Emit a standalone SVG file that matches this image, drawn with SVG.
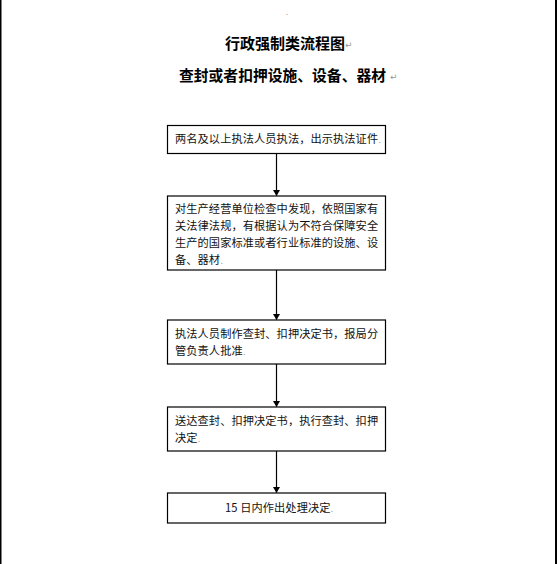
<svg xmlns="http://www.w3.org/2000/svg" width="557" height="564" viewBox="0 0 557 564">
<style>
.box{fill:#fff;stroke:#000;stroke-width:1.2}
.t{font-family:"Noto Sans CJK SC","Microsoft YaHei",sans-serif;font-size:11.2px;fill:#111;letter-spacing:0.1px}
.h{font-family:"Noto Sans CJK SC",sans-serif;font-size:15px;font-weight:bold;fill:#000}
.m{font-family:"DejaVu Sans",sans-serif;font-size:9px;fill:#999}
.c{stroke:#000;stroke-width:1.2;fill:none}
</style>
<defs>
<marker id="ah" markerWidth="6" markerHeight="7" refX="5.5" refY="3.5" orient="auto" markerUnits="userSpaceOnUse">
<path d="M0,0 L6,3.5 L0,7 Z" fill="#000"/>
</marker>
</defs>
<rect x="0" y="0" width="557" height="564" fill="#fff"/>
<rect x="0" y="0" width="1.5" height="564" fill="#000"/>
<rect x="555" y="0" width="2" height="564" fill="#000"/>
<g id="title">
<text x="287" y="15" class="m" text-anchor="middle">.</text>
<text x="225" y="49" class="h">行政强制类流程图</text>
<text x="345" y="48" class="m">↵</text>
<text x="179" y="81" class="h" textLength="207" lengthAdjust="spacingAndGlyphs">查封或者扣押设施、设备、器材</text>
<text x="390" y="80" class="m">↵</text>
</g>
<g id="connectors">
<line class="c" x1="276.5" y1="153" x2="276.5" y2="195.5" marker-end="url(#ah)"/>
<line class="c" x1="276.5" y1="270" x2="276.5" y2="319.5" marker-end="url(#ah)"/>
<line class="c" x1="276.5" y1="364" x2="276.5" y2="406.5" marker-end="url(#ah)"/>
<line class="c" x1="276.5" y1="451" x2="276.5" y2="492.5" marker-end="url(#ah)"/>
</g>
<g id="n1">
<rect class="box" x="167.5" y="125.5" width="218" height="28"/>
<text class="t" x="175" y="143">两名及以上执法人员执法，出示执法证件<tspan class="m">.</tspan></text>
</g>
<g id="n2">
<rect class="box" x="167.5" y="196" width="218" height="74"/>
<text class="t" x="175" y="213">对生产经营单位检查中发现，依照国家有</text>
<text class="t" x="175" y="230">关法律法规，有根据认为不符合保障安全</text>
<text class="t" x="175" y="247">生产的国家标准或者行业标准的设施、设</text>
<text class="t" x="175" y="264">备、器材<tspan class="m">.</tspan></text>
</g>
<g id="n3">
<rect class="box" x="167.5" y="320" width="218" height="44"/>
<text class="t" x="175" y="338">执法人员制作查封、扣押决定书，报局分</text>
<text class="t" x="175" y="355">管负责人批准<tspan class="m">.</tspan></text>
</g>
<g id="n4">
<rect class="box" x="167.5" y="407" width="218" height="44"/>
<text class="t" x="175" y="425">送达查封、扣押决定书，执行查封、扣押</text>
<text class="t" x="175" y="442">决定<tspan class="m">.</tspan></text>
</g>
<g id="n5">
<rect class="box" x="167.5" y="493" width="218" height="30"/>
<text class="t" x="225" y="512">15 日内作出处理决定<tspan class="m">.</tspan></text>
</g>
</svg>
